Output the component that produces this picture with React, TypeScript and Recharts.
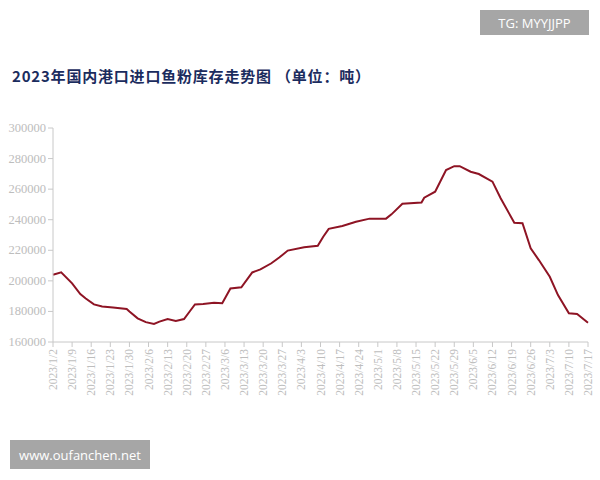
import React from "react";
import { LineChart, Line, XAxis, YAxis } from "recharts";

const title = "2023年国内港口进口鱼粉库存走势图 （单位：吨）";

const tickLabels = [
  "2023/1/2", "2023/1/9", "2023/1/16", "2023/1/23", "2023/1/30",
  "2023/2/6", "2023/2/13", "2023/2/20", "2023/2/27", "2023/3/6",
  "2023/3/13", "2023/3/20", "2023/3/27", "2023/4/3", "2023/4/10",
  "2023/4/17", "2023/4/24", "2023/5/1", "2023/5/8", "2023/5/15",
  "2023/5/22", "2023/5/29", "2023/6/5", "2023/6/12", "2023/6/19",
  "2023/6/26", "2023/7/3", "2023/7/10", "2023/7/17",
];

// day offset from 2023/1/2
const days = [
  0, 3, 7, 10, 12, 15, 18, 22, 27, 28, 31, 34, 37, 39, 42, 45, 48, 50, 52, 55,
  59, 62, 65, 69, 73, 76, 80, 83, 86, 92, 97, 99, 101, 106, 111, 116, 122, 124,
  128, 135, 136, 140, 144, 147, 149, 153, 156, 161, 164, 169, 172, 175, 178,
  182, 185, 189, 192, 196,
];

const stock = [
  204000, 205600, 198400, 191400, 188500, 184600, 183200, 182500, 181600,
  180000, 175500, 173000, 171800, 173300, 175000, 173800, 175000, 179800,
  184600, 184900, 185700, 185300, 195000, 195800, 205500, 207500, 211500,
  215400, 219800, 222000, 223000, 228900, 234000, 235900, 238700, 240700,
  240700, 243500, 250500, 251200, 254400, 258300, 272500, 275000, 275000,
  271400, 269900, 264900, 254000, 238000, 237700, 221300, 213600, 202700,
  190700, 178800, 178300, 172600,
];

const yTicks = [160000, 180000, 200000, 220000, 240000, 260000, 280000, 300000];

const data = days.map((d, i) => ({ day: d, value: stock[i] }));
const xTicks = tickLabels.map((_, i) => i * 7);

const SERIF = '"Liberation Serif", "DejaVu Serif", serif';

const XTick = (props: any) => {
  const { x, y, payload } = props;
  const label = tickLabels[Math.round(payload.value / 7)] ?? "";
  return (
    <text
      x={x}
      y={y}
      transform={`rotate(-90 ${x} ${y})`}
      textAnchor="end"
      dominantBaseline="central"
      fill="#bdbdbd"
      style={{ fontFamily: SERIF, fontSize: 11.5 }}
    >
      {label}
    </text>
  );
};

const YTick = (props: any) => {
  const { x, y, payload } = props;
  return (
    <text
      x={x}
      y={y}
      textAnchor="end"
      dominantBaseline="central"
      fill="#bdbdbd"
      style={{ fontFamily: SERIF, fontSize: 12.5 }}
    >
      {payload.value}
    </text>
  );
};

export default function App() {
  return (
    <div
      style={{
        position: "absolute",
        left: 0,
        top: 0,
        width: 600,
        height: 480,
        background: "#fff",
        overflow: "hidden",
      }}
    >
      <div
        style={{
          position: "absolute",
          left: 12,
          top: 65,
          fontFamily: "'Noto Sans CJK SC', sans-serif",
          fontWeight: 700,
          fontSize: 15,
          letterSpacing: "0.8px",
          color: "#1b2c5e",
          whiteSpace: "pre",
          lineHeight: "22px",
        }}
      >
        {title}
      </div>
      <LineChart
        width={600}
        height={480}
        data={data}
        margin={{ top: 128, right: 12, left: 0, bottom: 0 }}
      >
        <XAxis
          dataKey="day"
          type="number"
          domain={[0, 196]}
          ticks={xTicks}
          interval={0}
          height={138}
          tick={<XTick />}
          tickSize={5}
          tickMargin={2}
          stroke="#c8c8c8"
          axisLine={{ stroke: "#c8c8c8" }}
          tickLine={{ stroke: "#c8c8c8" }}
        />
        <YAxis
          type="number"
          domain={[160000, 300000]}
          ticks={yTicks}
          interval={0}
          width={53}
          tickSize={5}
          tickMargin={2}
          axisLine={{ stroke: "#c8c8c8" }}
          tickLine={{ stroke: "#c8c8c8" }}
          tick={<YTick />}
        />
        <Line
          type="linear"
          dataKey="value"
          stroke="#8e1424"
          strokeWidth={2}
          dot={false}
          isAnimationActive={false}
        />
      </LineChart>
      <div
        style={{
          position: "absolute",
          left: 480,
          top: 10,
          width: 109,
          height: 25,
          background: "#a6a6a6",
          color: "#fff",
          fontFamily: "'Open Sans', sans-serif",
          fontSize: 13,
          display: "flex",
          alignItems: "center",
          justifyContent: "center",
        }}
      >
        TG: MYYJJPP
      </div>
      <div
        style={{
          position: "absolute",
          left: 10,
          top: 440,
          width: 140,
          height: 29,
          background: "#a6a6a6",
          color: "#fff",
          fontFamily: "'Open Sans', sans-serif",
          fontSize: 13,
          display: "flex",
          alignItems: "center",
          justifyContent: "center",
        }}
      >
        www.oufanchen.net
      </div>
    </div>
  );
}
